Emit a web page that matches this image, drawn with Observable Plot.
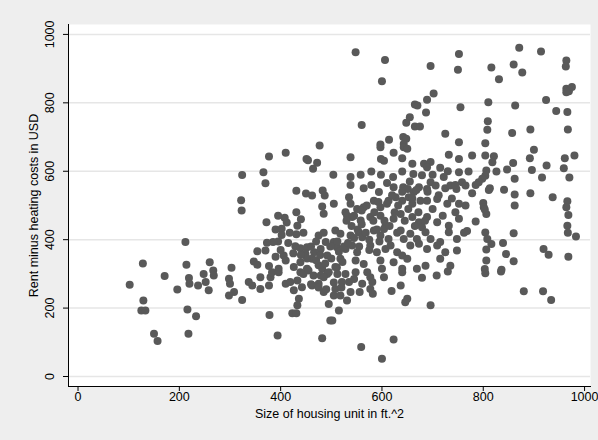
<!DOCTYPE html>
<html><head><meta charset="utf-8">
<script src="https://cdn.jsdelivr.net/npm/d3@7"></script>
<script src="https://cdn.jsdelivr.net/npm/@observablehq/plot@0.6"></script>
<style>html,body{margin:0;padding:0;background:#eeeeee;overflow:hidden;}</style>
</head><body><div id="chart"></div>
<script>
const sqft = [
548,606,600,696,752,750,702,689,665,670,687,655,648,665,675,560,725,755,642,648,614,597,643,752,
871,914,964,963,816,860,877,831,964,969,975,964,810,863,924,944,966,809,808,857,893,967,804,
212,128,214,102,171,219,220,237,196,129,125,133,216,233,150,157,218,
377,410,451,454,472,464,477,324,366,370,431,450,462,483,487,322,323,482,485,431,408,372,433,402,402,431,475,485,395,385,373,429,439,452,354,370,406,410,449,466,462,479,489,492,347,354,260,303,267,377,396,426,439,452,475,482,
597,598,604,623,643,650,640,660,683,696,689,732,752,538,
504,538,558,579,598,622,640,662,679,696,722,752,
538,564,579,594,610,623,642,651,663,673,689,706,725,735,747,
505,535,538,551,564,528,584,597,613,627,640,660,653,676,689,709,729,752,745,
531,541,558,577,597,607,623,637,660,673,679,689,709,732,752,
508,518,538,554,561,584,597,604,613,637,643,656,669,686,696,715,732,748,
505,511,528,541,551,577,590,607,617,630,640,656,673,689,709,725,748,
518,548,564,597,623,650,686,715,735,511,600,640,669,
778,804,821,818,859,847,826,806,804,798,791,785,771,758,765,900,892,896,925,916,961,980,959,970,862,813,811,841,778,862,893,937,800,801,806,803,765,862,966,964,968,785,966,967,983,768,762,804,808,816,860,839,806,845,919,929,968,806,860,803,836,
248,268,252,258,298,300,308,298,324,337,344,360,360,377,380,383,396,410,419,433,426,436,433,423,431,442,439,462,475,479,492,485,495,498,378,394,482,
512,521,508,505,518,531,538,535,515,502,548,561,556,577,581,577,582,571,604,619,637,650,646,640,679,708,730,696,559,623,600,
804,835,880,918,934,
445,455,465,470,478,488,495,500,508,515,522,528,460,470,498,512,525,452,440,485,
533,545,552,560,568,575,583,590,545,560,570,585,593,540,530,555,575,595,
605,615,625,632,645,652,660,668,620,610,640,655,672,630,665,
685,700,712,720,738,745,700,715,730,690,
390,400,415,425,418,390,412,440,445,395,
460,475,505,520,545,490
];
const rent = [
948,925,863,908,943,897,827,809,795,792,772,758,742,731,731,735,710,787,700,695,692,678,680,685,
961,950,924,906,903,912,889,869,841,834,846,831,802,792,808,776,773,746,721,712,722,722,682,
393,330,327,268,294,288,271,266,254,222,193,193,196,176,125,104,125,
643,654,636,632,625,607,675,589,597,565,543,535,529,544,529,515,485,497,476,480,464,451,441,432,414,416,412,420,395,393,391,381,375,378,366,368,354,339,359,363,344,373,393,354,336,327,334,318,310,323,315,320,334,315,325,315,
670,636,631,654,670,666,638,622,622,627,612,648,636,641,
590,583,590,599,590,583,599,592,588,568,583,597,
560,550,560,539,566,553,553,548,539,553,548,558,550,558,548,
505,524,505,490,495,480,514,495,514,524,514,505,524,514,514,519,505,505,480,
470,466,456,466,470,441,461,475,466,451,436,466,451,441,461,
427,417,412,422,407,427,412,431,402,427,402,417,402,422,402,393,422,402,
393,378,373,383,363,383,363,373,383,363,354,383,388,373,383,363,368,
344,339,329,339,334,344,324,344,324,319,315,315,315,
646,646,644,626,624,605,599,602,587,578,568,560,599,568,558,663,638,604,617,582,638,646,609,582,578,550,545,546,536,532,536,524,507,495,475,488,500,500,512,495,472,453,441,420,409,425,420,421,402,387,419,390,371,358,373,356,350,339,337,314,312,
300,295,276,252,286,271,247,237,224,276,266,290,256,266,290,305,305,271,276,281,252,227,208,185,185,261,305,266,271,295,300,247,212,164,180,120,112,
300,276,256,237,237,222,247,276,193,164,305,271,247,290,276,256,242,305,290,250,266,227,217,305,289,295,307,208,86,108,52,
302,307,249,249,224,
300,310,295,340,355,330,305,345,320,365,335,300,380,395,380,395,380,345,355,290,
390,405,430,445,420,400,455,430,470,485,500,480,510,440,455,380,370,395,
455,440,480,500,455,490,520,545,530,505,540,570,480,420,440,
455,490,530,470,520,560,590,610,600,540,
350,370,390,360,420,430,450,460,420,470,
270,260,275,260,285,255
];
const xTicks = [0, 200, 400, 600, 800, 1000];
const yTicks = [0, 200, 400, 600, 800, 1000];
const xTitle = "Size of housing unit in ft.^2";
const yTitle = "Rent minus heating costs in USD";

const data = sqft.map((s, i) => ({sqft: s, rent: rent[i]}));

const chart = Plot.plot({
  width: 598, height: 440,
  marginLeft: 68, marginRight: 8, marginTop: 24, marginBottom: 54,
  style: {background: "#eeeeee", fontFamily: "'Liberation Sans', Arial, sans-serif", fontSize: "12.5px", color: "#000"},
  x: {domain: [-18.8, 1011.7]},
  y: {domain: [-29.2, 1029]},
  marks: [
    Plot.frame({fill: "white", stroke: null}),
    Plot.ruleY(yTicks, {stroke: "#e6e6e6", strokeWidth: 1.5}),
    Plot.dot(data, {x: "sqft", y: "rent", r: 4, fill: "#595959", stroke: null}),
    Plot.frame({anchor: "left", stroke: "#000", strokeOpacity: 1}),
    Plot.frame({anchor: "bottom", stroke: "#000", strokeOpacity: 1}),
    Plot.axisY({ticks: yTicks, tickSize: 5, tickFormat: () => "", label: null, strokeOpacity: 1}),
    Plot.axisX({ticks: xTicks, tickSize: 5, tickFormat: () => "", label: null, strokeOpacity: 1}),
    Plot.text(yTicks, {y: d => d, text: d => String(d), frameAnchor: "left", dx: -19, rotate: -90, textAnchor: "middle", fill: "#000"}),
    Plot.text(xTicks, {x: d => d, text: d => String(d), frameAnchor: "bottom", dy: 14, textAnchor: "middle", fill: "#000"}),
    Plot.text([yTitle], {text: d => d, frameAnchor: "left", dx: -35, rotate: -90, textAnchor: "middle", fill: "#000"}),
    Plot.text([xTitle], {text: d => d, frameAnchor: "bottom", dy: 31, textAnchor: "middle", fill: "#000"})
  ]
});
document.getElementById("chart").append(chart);
</script>
</body></html>
